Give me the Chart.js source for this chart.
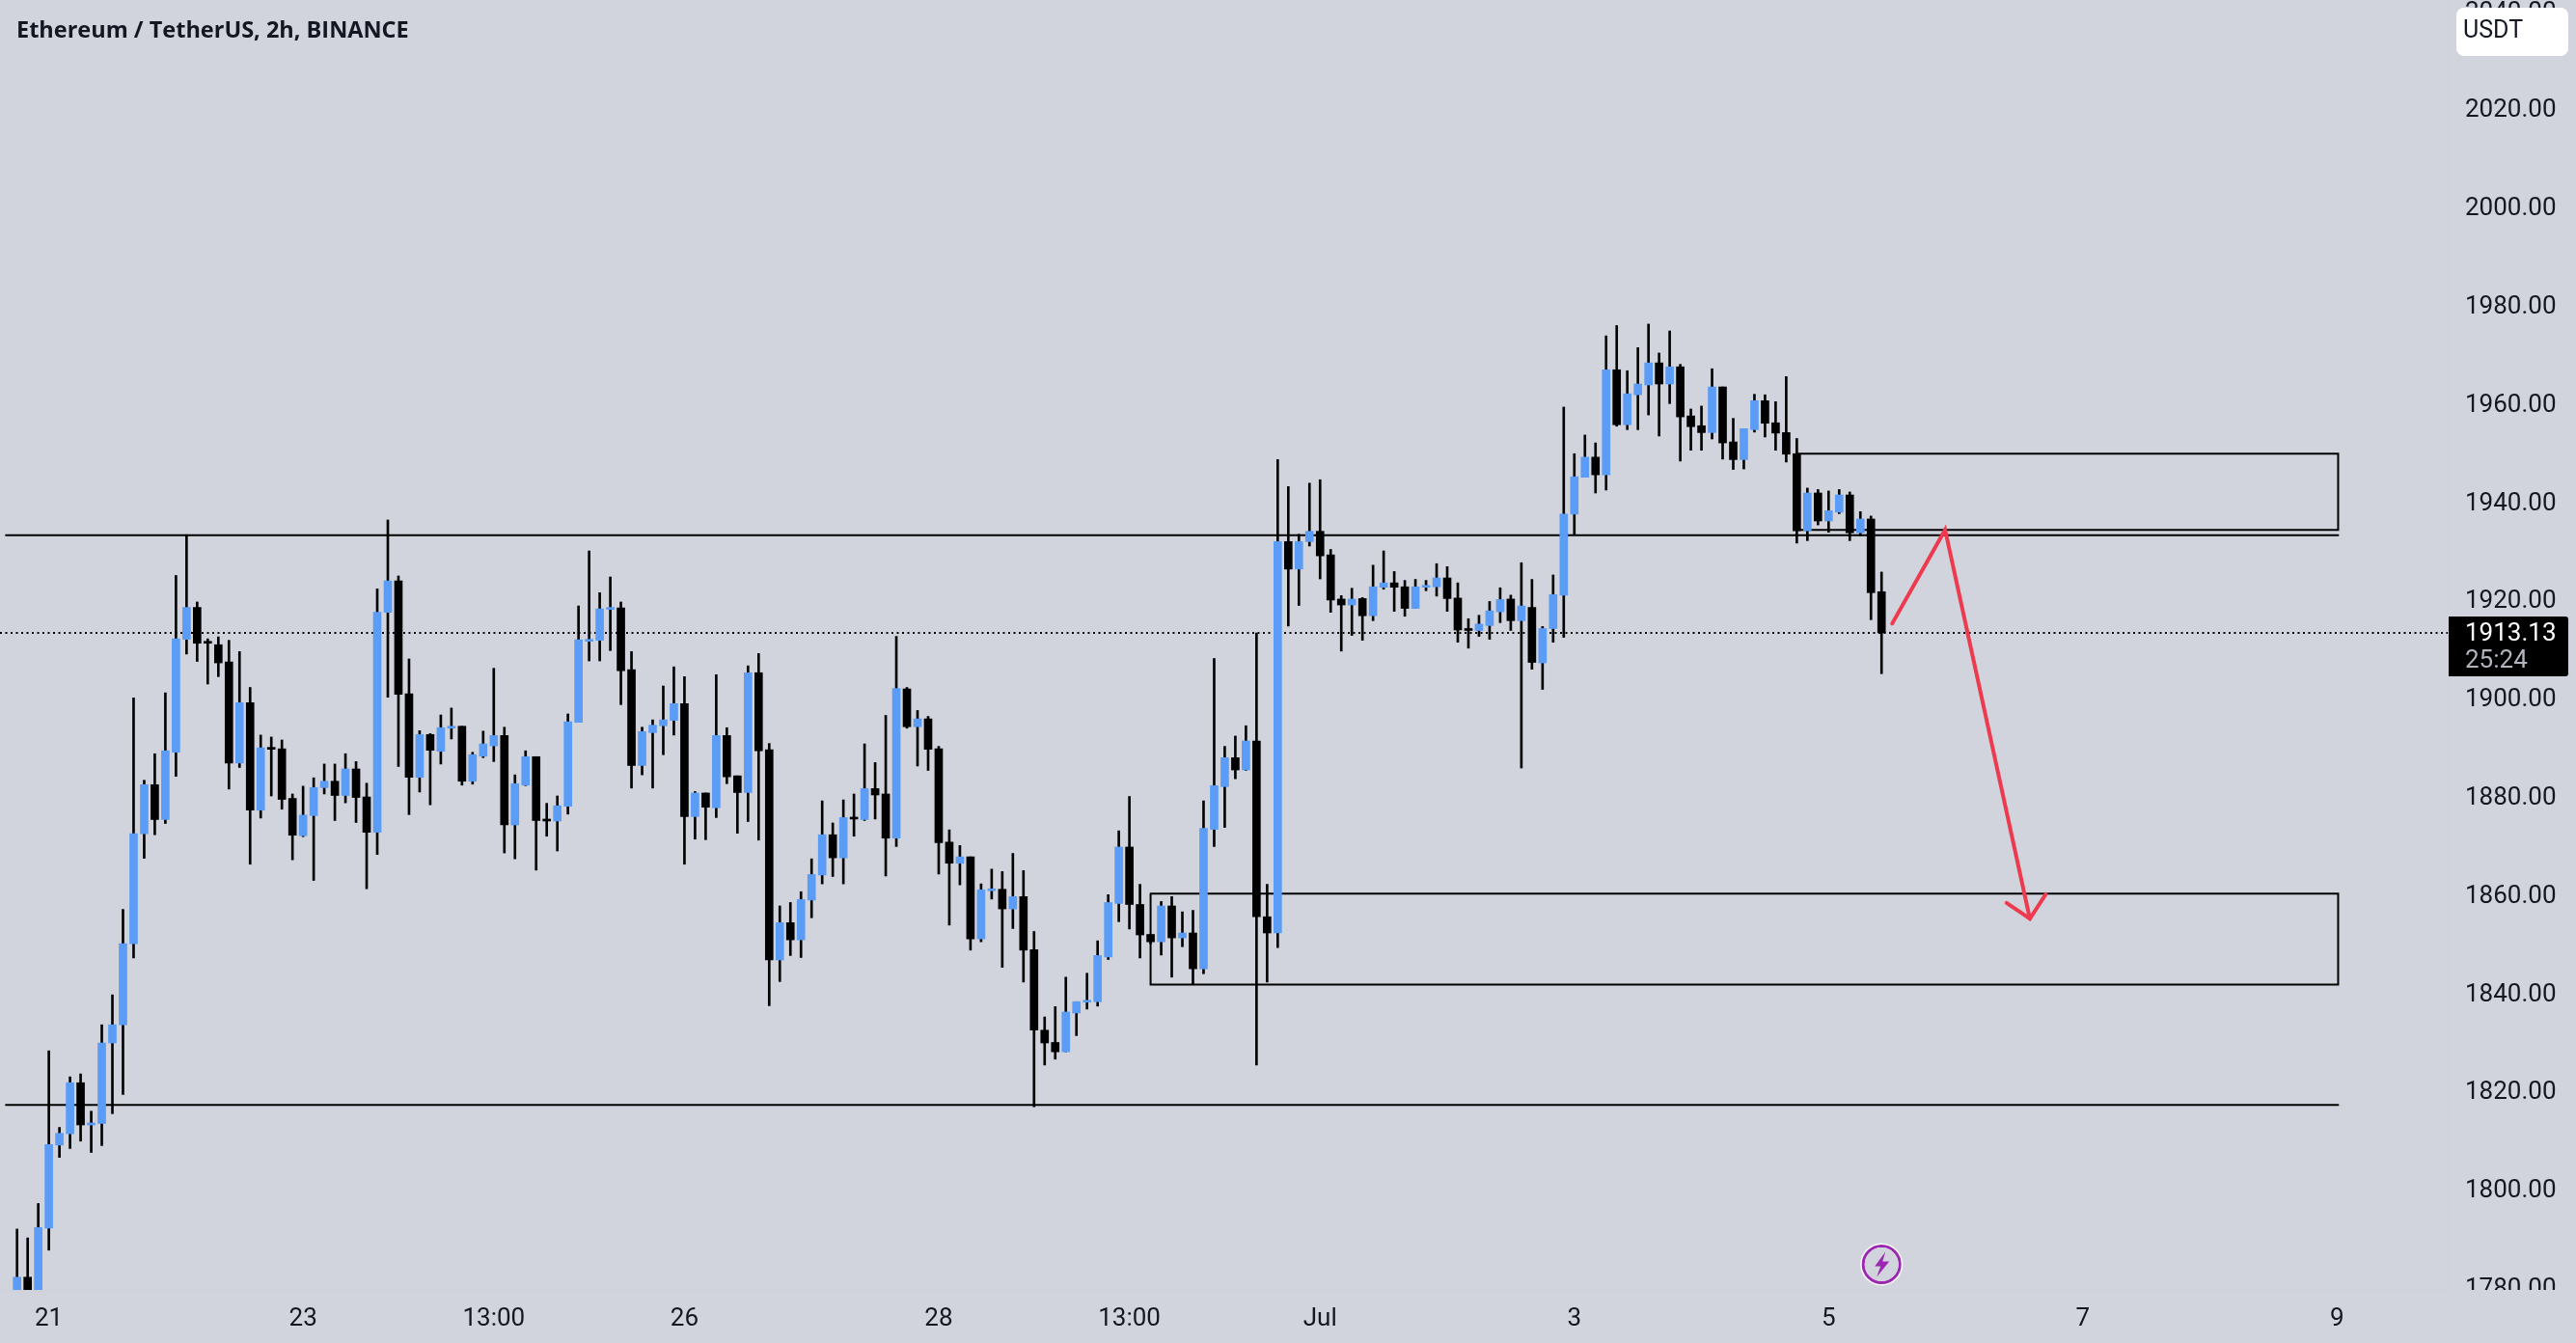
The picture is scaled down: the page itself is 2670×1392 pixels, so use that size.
<!DOCTYPE html>
<html>
<head>
<meta charset="utf-8">
<title>Ethereum / TetherUS</title>
<script src="https://cdn.jsdelivr.net/npm/chart.js@4"></script>
<style>
  html, body { margin: 0; padding: 0; background: #d1d4dc; overflow: hidden; }
  canvas { display: block; }
</style>
</head>
<body>
<canvas id="eth_chart" width="2670" height="1392"></canvas>
<script>
// 2h candles
var opens = [
  1778,1781.9,1778,1791.9,1808.8,1811.1,1821.5,1812.9,1813.2,1829.6,
  1833.3,1849.8,1872.2,1882.2,1875.1,1888.8,1911.8,1918.3,1911.2,1910.7,
  1907.2,1886.6,1898.9,1877,1889.6,1889.5,1879.4,1871.8,1875.9,1881.6,
  1882.9,1880,1885.4,1879.7,1872.5,1917.3,1923.7,1900.7,1883.7,1892.4,
  1889,1893.7,1894.1,1882.9,1888,1890.1,1892.2,1874,1882.1,1887.9,
  1875.1,1874.8,1877.8,1894.9,1911.4,1911.6,1917.9,1918.2,1905.6,1886.1,
  1892.8,1894.2,1895.3,1898.7,1875.7,1880.5,1877.5,1892.2,1884,1880.6,
  1905,1889.3,1846.5,1854.1,1850.6,1858.7,1863.8,1872,1867.3,1875.5,
  1875.1,1881.4,1880.3,1871.3,1901.7,1894,1895.6,1889.5,1870.5,1866.2,
  1867.5,1850.8,1860.6,1860.9,1856.9,1859.4,1848.6,1832.2,1829.7,1827.8,
  1835.7,1837.9,1838,1847.1,1858,1869.5,1857.8,1851.7,1850.2,1857.5,
  1851,1852,1844.7,1873.1,1881.8,1887.7,1885.2,1891.1,1855.3,1852,
  1931.7,1926.1,1931.7,1933.8,1929,1920,1918.8,1920.1,1916.6,1922.4,
  1923.3,1922.5,1918.1,1922.4,1922.5,1924.3,1920.2,1913.9,1913.6,1914.6,
  1917.4,1920,1915.6,1918.3,1907,1914,1920.8,1937.3,1944.8,1948.9,
  1945.3,1966.7,1955.5,1961.6,1963.6,1968.1,1963.8,1967.3,1957.3,1955.3,
  1953.9,1963.2,1952,1948.4,1954.5,1960.4,1955.9,1953.9,1949.6,1933.9,
  1941.6,1935.9,1937.7,1941.2,1933.5,1936.3,1921.5
];
var closes = [
  1781.9,1778,1792,1808.9,1811.2,1821.5,1812.9,1813.3,1829.6,1833.3,
  1849.8,1872.2,1882.2,1875.1,1889.1,1911.9,1918.3,1911,1911,1907,
  1886.6,1898.9,1877,1889.7,1889.4,1879.2,1871.9,1876,1881.6,1882.9,
  1880,1885.4,1879.6,1872.5,1917.3,1923.7,1900.6,1883.7,1892.4,1889.2,
  1893.8,1894.1,1882.9,1888.3,1890.5,1892.2,1874,1882.4,1887.9,1874.9,
  1874.8,1877.9,1895,1911.7,1911.6,1918,1918.1,1905.4,1886.1,1893,
  1894.3,1895.4,1898.7,1875.7,1880.5,1877.6,1892.2,1883.8,1880.6,1905,
  1889.1,1846.5,1854.1,1850.6,1858.8,1863.9,1872,1867.3,1875.5,1875.2,
  1881.4,1880.1,1871.3,1901.8,1894,1895.6,1889.4,1870.4,1866.2,1867.5,
  1850.8,1860.8,1860.9,1856.9,1859.4,1848.5,1832.2,1829.6,1827.8,1835.9,
  1838,1838.2,1847.4,1858.2,1869.5,1857.8,1851.6,1850.2,1857.5,1851,
  1852,1844.7,1873.3,1882,1887.7,1885.2,1891.1,1855.3,1852,1931.7,
  1926.1,1931.7,1933.8,1928.8,1919.8,1918.8,1920,1916.6,1922.5,1923.3,
  1922.4,1918.1,1922.5,1922.7,1924.3,1920.1,1913.7,1913.6,1914.9,1917.6,
  1919.9,1915.6,1918.6,1907.1,1914,1920.9,1937.3,1944.9,1948.9,1945.3,
  1966.7,1955.5,1961.8,1963.8,1968.1,1963.8,1967.3,1957.1,1955.1,1953.9,
  1963.2,1951.8,1948.4,1954.7,1960.4,1955.8,1953.8,1949.5,1933.9,1941.6,
  1935.9,1938,1941.2,1933.5,1936.3,1921.3,1913.13
];
var highs = [
  1791.7,1789.9,1796.9,1828,1812.4,1822.7,1823.3,1815.7,1833.3,1839.4,
  1856.8,1899.9,1883.1,1888.5,1900.9,1924.8,1933.1,1919.4,1911.9,1912.3,
  1911.6,1909.3,1902,1892.3,1891.9,1891.3,1880.3,1881.9,1883.6,1886.4,
  1886.4,1888.5,1886.9,1882.5,1922.1,1936.1,1924.7,1907.8,1893.2,1892.6,
  1896.4,1897.8,1894.1,1888.8,1893.1,1905.9,1893.9,1884.2,1889.1,1887.9,
  1878.4,1879.9,1896.6,1918.6,1929.8,1921.3,1924.5,1919.4,1909.3,1893.9,
  1895.4,1902.3,1906.2,1904.2,1880.8,1880.5,1904.6,1893.8,1884,1906.4,
  1908.9,1890.6,1857.5,1858.2,1860.4,1867.1,1878.9,1874.4,1879.1,1880.3,
  1890.5,1886.7,1896.3,1912.4,1902,1897.3,1896.1,1890,1873,1869.8,
  1867.5,1862,1865,1864.5,1868.2,1864.7,1852.3,1834.9,1837,1843,
  1838,1843.8,1850.4,1859.8,1872.8,1879.8,1861.9,1851.7,1858.4,1859.4,
  1856.3,1856.6,1878.9,1907.9,1890,1892.1,1894.2,1913.1,1861.9,1948.4,
  1942.9,1933.2,1943.6,1944.3,1930.1,1920.7,1922.2,1920.3,1926.9,1929.8,
  1925.6,1923.8,1924,1923.8,1927.2,1926.6,1923.3,1916,1916.7,1919.5,
  1922.3,1920.8,1927.4,1924,1914.4,1924.9,1959.1,1949.6,1953.4,1951.8,
  1973.6,1975.7,1966.5,1971.2,1976,1970.1,1974.6,1967.8,1958.7,1959.3,
  1966.9,1963.2,1956.8,1954.7,1961.7,1961.6,1960.2,1965.3,1952.7,1942.6,
  1942.3,1942,1942.3,1941.8,1937.8,1936.9,1925.5
];
var lows = [
  1778,1778,1778,1787.4,1806.3,1808.1,1809.6,1807.3,1808.7,1815.2,
  1819.1,1846.9,1867.2,1872,1874.3,1883.9,1908.8,1907.3,1902.7,1904.2,
  1881.3,1885.7,1866,1875.4,1879.9,1877.2,1866.9,1871.6,1862.7,1880.3,
  1874.9,1878.5,1874.5,1861,1868,1900,1885.9,1876.1,1880.7,1878.1,
  1886.4,1891.5,1882.1,1882.3,1887.7,1886.9,1868.3,1867.1,1882,1864.8,
  1871.7,1868.7,1876.2,1894.9,1907.4,1907.4,1909.5,1898.5,1881.5,1884.2,
  1881.5,1888.3,1892.3,1866,1871.1,1871,1875.5,1882.4,1872.3,1874.7,
  1870.9,1837.2,1842.1,1847.4,1847,1855.1,1862,1863.5,1862,1871.7,
  1874.9,1875.2,1863.6,1869.6,1893.7,1886,1885.1,1864,1853.6,1861.8,
  1848.5,1850.2,1858.9,1845,1852.9,1842,1816.6,1825.1,1826.3,1827.8,
  1831.1,1836.5,1837.1,1846.6,1854.3,1852.8,1846.9,1849.8,1847.5,1843,
  1849.2,1841.5,1843.7,1869.6,1873.5,1883.4,1885.1,1825.1,1842,1849,
  1914.5,1918.7,1930.8,1924.1,1917.3,1909.4,1912.6,1911.6,1915.6,1922,
  1917.5,1916.5,1918.1,1921.7,1920.6,1917.5,1911.2,1910,1912.4,1911.8,
  1915.2,1913.6,1885.6,1905.7,1901.6,1911.2,1912.2,1933.2,1944.8,1941.6,
  1942.2,1955.2,1954.5,1954.5,1957.5,1953.2,1959.8,1948.1,1950.3,1950.3,
  1952.6,1948.5,1946.4,1946.5,1954,1953,1950.3,1947.9,1931.4,1931.9,
  1935.1,1933.6,1937.4,1931.9,1932.9,1915.8,1904.8
];

var priceTicks = [1780,1800,1820,1840,1860,1880,1900,1920,1940,1960,1980,2000,2020,2040];
var timeTickBars = [3,27,45,63,87,105,123,147,171,195,219];
var timeTickLabels = ["21","23","13:00","26","28","13:00","Jul","3","5","7","9"];

var lastPrice = 1913.13;
var countdown = "25:24";
var titleText = "Ethereum / TetherUS, 2h, BINANCE";
var currencyText = "USDT";

// drawings, in bar number / price
var drawEnd = 219.1;
var upperLevel = 1933;
var lowerLevel = 1817;
var levelStart = -1.05;
var upperBox = { x1: 168.1, x2: drawEnd, top: 1949.6, bottom: 1934.1 };
var lowerBox = { x1: 107, x2: drawEnd, top: 1860, bottom: 1841.5 };
var arrowPath = [[177, 1915], [182, 1934.1], [190, 1854.9]];
var arrowHead = [[187.8, 1858.1], [190, 1854.9], [191.5, 1859.9]];

var upColor = "#5b9cf6", downColor = "#000000", textColor = "#131722", bgColor = "#d1d4dc";
var uiFont = "Roboto, sans-serif";

function toPoints(pairs) { return pairs.map(function (p) { return { x: p[0], y: p[1] }; }); }
function boxPoints(b) {
    return [{x:b.x1,y:b.top},{x:b.x2,y:b.top},{x:b.x2,y:b.bottom},{x:b.x1,y:b.bottom},{x:b.x1,y:b.top}];
}
function drawing(points, color, width, order, dash) {
    return { type: "line", data: points, borderColor: color, borderWidth: width, borderDash: dash || [],
             pointRadius: 0, tension: 0, fill: false, order: order, borderCapStyle: dash ? "butt" : "round", borderJoinStyle: "miter" };
}

var overlay = {
    id: "overlay",
    afterDraw: function (chart) {
        var c = chart.ctx, y = chart.scales.y, a = chart.chartArea;
        c.save();
        // axis labels stop at the pane edge
        c.fillStyle = bgColor;
        c.fillRect(a.right + 1, a.bottom, chart.width - a.right, chart.height - a.bottom);

        c.textBaseline = "middle";
        c.textAlign = "left";
        c.fillStyle = textColor;
        c.font = "bold 23.5px 'Open Sans', sans-serif";
        c.fillText(titleText, 17, 32);

        // currency button
        c.fillStyle = "#ffffff";
        c.beginPath();
        c.roundRect(2546, 8, 116, 50, 8);
        c.fill();
        c.fillStyle = "#131722";
        c.font = "25px " + uiFont;
        c.fillText(currencyText, 2553, 33);

        // last price tag
        var py = y.getPixelForValue(lastPrice);
        c.fillStyle = "#000000";
        c.beginPath();
        c.roundRect(2538, py - 17, 124, 62, [0, 3, 3, 0]);
        c.fill();
        c.fillStyle = "#ffffff";
        c.font = "26px " + uiFont;
        c.fillText(lastPrice.toFixed(2), 2555, py + 2);
        c.fillStyle = "#b2b5be";
        c.fillText(countdown, 2555, py + 30);

        // lightning badge
        var bx = chart.scales.x.getPixelForValue(176), by = 1310.5;
        c.fillStyle = "#ffffff";
        c.beginPath(); c.arc(bx, by, 22, 0, Math.PI * 2); c.fill();
        c.strokeStyle = "#9c27b0";
        c.lineWidth = 3;
        c.beginPath(); c.arc(bx, by, 19, 0, Math.PI * 2); c.stroke();
        c.fillStyle = "#d1d4dc";
        c.beginPath(); c.arc(bx, by, 17.5, 0, Math.PI * 2); c.fill();
        c.fillStyle = "#9c27b0";
        c.beginPath();
        c.moveTo(bx + 4, by - 13); c.lineTo(bx - 7, by + 2); c.lineTo(bx - 1, by + 2);
        c.lineTo(bx - 5, by + 13); c.lineTo(bx + 8, by - 3); c.lineTo(bx + 1, by - 3);
        c.closePath();
        c.fill();
        c.restore();
    }
};

new Chart(document.getElementById("eth_chart"), {
    type: "bar",
    plugins: [overlay],
    data: {
        datasets: [
            drawing(toPoints(arrowPath), "#ee3a4e", 4, 0),
            drawing(toPoints(arrowHead), "#ee3a4e", 4, 0),
            { label: "body", data: opens.map(function (o, i) { return { x: i, y: [o, closes[i]] }; }),
              backgroundColor: opens.map(function (o, i) { return closes[i] >= o ? upColor : downColor; }),
              barThickness: 8, minBarLength: 2, grouped: false, order: 1 },
            { label: "wick", data: lows.map(function (l, i) { return { x: i, y: [l, highs[i]] }; }),
              backgroundColor: "#000000", barThickness: 2, grouped: false, order: 2 },
            drawing([{x:levelStart,y:upperLevel},{x:drawEnd,y:upperLevel}], "#000000", 2, 3),
            drawing([{x:levelStart,y:lowerLevel},{x:drawEnd,y:lowerLevel}], "#000000", 2, 3),
            drawing(boxPoints(upperBox), "#000000", 2, 3),
            drawing(boxPoints(lowerBox), "#000000", 2, 3),
            drawing([{x:-1.61,y:lastPrice},{x:229.44,y:lastPrice}], "#000000", 2, 4, [2, 3.5])
        ]
    },
    options: {
        responsive: false,
        animation: false,
        devicePixelRatio: 1,
        layout: { padding: 0 },
        plugins: { legend: { display: false }, tooltip: { enabled: false }, title: { display: false } },
        scales: {
            x: {
                type: "linear", offset: false, min: -1.61, max: 229.44,
                grid: { display: false, drawTicks: false, offset: false },
                border: { color: "#ccd0d8" },
                afterBuildTicks: function (s) { s.ticks = timeTickBars.map(function (v) { return { value: v }; }); },
                afterFit: function (s) { s.height = 55; s.paddingLeft = 0; s.paddingRight = 0; },
                ticks: {
                    autoSkip: false, maxRotation: 0, padding: 15, color: textColor,
                    font: { family: uiFont, size: 26, weight: "normal" },
                    callback: function (v) { return timeTickLabels[timeTickBars.indexOf(v)]; }
                }
            },
            y: {
                position: "right", min: 1779.3, max: 2042,
                grid: { display: false, drawTicks: false },
                border: { color: "#ccd0d8" },
                afterBuildTicks: function (s) { s.ticks = priceTicks.map(function (v) { return { value: v }; }); },
                // first and last labels may run past the pane, no extra room for them
                afterFit: function (s) { s.width = 133; s.paddingTop = 0; s.paddingBottom = 0; },
                ticks: {
                    autoSkip: false, padding: 18, color: textColor, labelOffset: 3,
                    font: { family: uiFont, size: 26 },
                    callback: function (v) { return v.toFixed(2); }
                }
            }
        }
    }
});
</script>
</body>
</html>
